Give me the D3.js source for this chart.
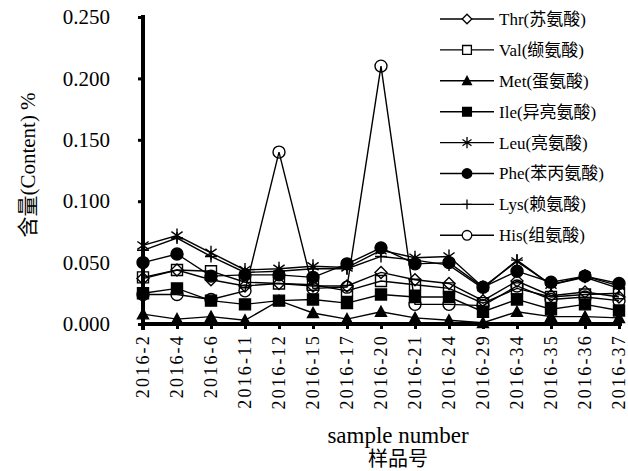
<!DOCTYPE html>
<html><head><meta charset="utf-8">
<script src="https://cdn.jsdelivr.net/npm/d3@7"></script>
<style>
body{margin:0;background:#fff;}
svg{display:block;}
text{font-family:"Liberation Serif","Noto Sans CJK SC",serif;fill:#000;}
</style></head><body>
<svg id="chart" width="628" height="471"></svg>
<script>
const categories = ["2016-2","2016-4","2016-6","2016-11","2016-12","2016-15","2016-17","2016-20","2016-21","2016-24","2016-29","2016-34","2016-35","2016-36","2016-37"];
const yTicks = [0, 0.05, 0.10, 0.15, 0.20, 0.25];
const seriesNames = ["Thr(苏氨酸)","Val(缬氨酸)","Met(蛋氨酸)","Ile(异亮氨酸)","Leu(亮氨酸)","Phe(苯丙氨酸)","Lys(赖氨酸)","His(组氨酸)"];
const markerTypes = ["diamond","squareOpen","triangle","square","asterisk","circle","plus","circleOpen"];
const thr = [0.037,0.044,0.036,0.031,0.033,0.031,0.031,0.042,0.036,0.033,0.019,0.035,0.023,0.026,0.022];
const val = [0.038,0.044,0.043,0.034,0.033,0.032,0.027,0.035,0.032,0.029,0.017,0.029,0.022,0.024,0.025];
const met = [0.008,0.004,0.006,0.003,0.019,0.009,0.004,0.010,0.005,0.003,0.001,0.010,0.006,0.006,0.005];
const ile = [0.025,0.029,0.019,0.016,0.019,0.020,0.017,0.024,0.022,0.022,0.010,0.020,0.012,0.016,0.011];
const leu = [0.064,0.072,0.058,0.044,0.045,0.047,0.046,0.060,0.054,0.055,0.030,0.051,0.032,0.039,0.031];
const phe = [0.050,0.057,0.039,0.040,0.040,0.038,0.049,0.062,0.049,0.050,0.030,0.043,0.034,0.039,0.033];
const lys = [0.060,0.070,0.055,0.042,0.043,0.045,0.045,0.055,0.052,0.048,0.029,0.052,0.032,0.038,0.029];
const his = [0.024,0.024,0.020,0.027,0.140,0.029,0.030,0.210,0.016,0.016,0.015,0.031,0.020,0.022,0.019];

const seriesValues = [thr, val, met, ile, leu, phe, lys, his];
const series = seriesNames.map((n, i) => ({name: n, marker: markerTypes[i], values: seriesValues[i]}));

const svg = d3.select("#chart");
const x = d3.scalePoint().domain(categories).range([143, 619]).padding(0);
const y = d3.scaleLinear().domain([0, 0.25]).range([324, 17]);

function markerPath(type, k) {
  const p = d3.path();
  switch (type) {
    case "circle": case "circleOpen": {
      const r = 6 * k; p.moveTo(r, 0); p.arc(0, 0, r, 0, 2 * Math.PI); p.closePath(); break; }
    case "square": case "squareOpen": {
      const h = 5.5 * k; p.rect(-h, -h, 2 * h, 2 * h); break; }
    case "triangle": {
      const h = 5.5 * k; p.moveTo(0, -h); p.lineTo(h, h * 0.85); p.lineTo(-h, h * 0.85); p.closePath(); break; }
    case "diamond": {
      const h = 6 * k; p.moveTo(0, -h); p.lineTo(h, 0); p.lineTo(0, h); p.lineTo(-h, 0); p.closePath(); break; }
    case "asterisk": {
      const h = 7 * k, d = h * 0.8;
      p.moveTo(0, -h); p.lineTo(0, h);
      p.moveTo(-d, -d * 0.7); p.lineTo(d, d * 0.7);
      p.moveTo(-d, d * 0.7); p.lineTo(d, -d * 0.7); break; }
    case "plus": {
      const h = 6 * k; p.moveTo(0, -h); p.lineTo(0, h); p.moveTo(-h, 0); p.lineTo(h, 0); break; }
  }
  return p.toString();
}
function markerFill(type, legend) {
  if (type === "circle" || type === "square" || type === "triangle") return "#000";
  if (type === "asterisk" || type === "plus") return "none";
  return legend ? "#fff" : "none";
}

// axes
const yAxis = d3.axisLeft(y).tickValues(yTicks).tickFormat(d3.format(".3f")).tickSize(5).tickPadding(28);
const gy = svg.append("g").attr("transform", "translate(143,0)").call(yAxis);
gy.select(".domain").attr("stroke", "#000").attr("stroke-width", 4).attr("d", "M0,15V330");
gy.selectAll(".tick line").attr("stroke", "#000").attr("stroke-width", 3);
gy.selectAll(".tick text").attr("font-size", 21).attr("font-family", "Liberation Serif");

const xAxis = d3.axisBottom(x).tickSize(5).tickPadding(6);
const gx = svg.append("g").attr("transform", "translate(0,324)").call(xAxis);
gx.select(".domain").attr("stroke", "#000").attr("stroke-width", 4).attr("d", "M141,0H622");
gx.selectAll(".tick line").attr("stroke", "#000").attr("stroke-width", 3);
gx.selectAll(".tick text")
  .attr("font-size", 18)
  .attr("font-family", "Liberation Serif")
  .attr("letter-spacing", "2.2px")
  .attr("transform", "rotate(-90)")
  .attr("text-anchor", "end")
  .attr("x", -10).attr("y", 0).attr("dy", "0.3em");

// lines
const line = d3.line().x((d, i) => x(categories[i])).y(d => y(d));
svg.append("g").selectAll("path").data(series).join("path")
  .attr("d", s => line(s.values))
  .attr("fill", "none").attr("stroke", "#000").attr("stroke-width", 1.4);

// markers
series.forEach(s => {
  svg.append("g").selectAll("path").data(s.values).join("path")
    .attr("transform", (d, i) => `translate(${x(categories[i])},${y(d)})`)
    .attr("d", markerPath(s.marker, 1))
    .attr("fill", markerFill(s.marker, false))
    .attr("stroke", "#000").attr("stroke-width", 1.4);
});

// legend
const lg = svg.append("g");
series.forEach((s, i) => {
  const yy = 19 + i * 30.9;
  lg.append("line").attr("x1", 440).attr("x2", 494).attr("y1", yy).attr("y2", yy)
    .attr("stroke", "#000").attr("stroke-width", 1.4);
  lg.append("path").attr("transform", `translate(467,${yy})`)
    .attr("d", markerPath(s.marker, 0.8))
    .attr("fill", markerFill(s.marker, true))
    .attr("stroke", "#000").attr("stroke-width", 1.3);
  lg.append("text").attr("x", 499).attr("y", yy).attr("dy", "0.35em")
    .attr("font-size", 17).text(s.name);
});

// axis titles
svg.append("text").attr("transform", "translate(28,165) rotate(-90)")
  .attr("text-anchor", "middle").attr("dy", "0.35em").attr("font-size", 21)
  .text("含量(Content) %");
svg.append("text").attr("x", 398).attr("y", 443).attr("text-anchor", "middle")
  .attr("font-size", 23).text("sample number");
svg.append("text").attr("x", 398).attr("y", 466).attr("text-anchor", "middle")
  .attr("font-size", 20).text("样品号");
</script>
</body></html>
